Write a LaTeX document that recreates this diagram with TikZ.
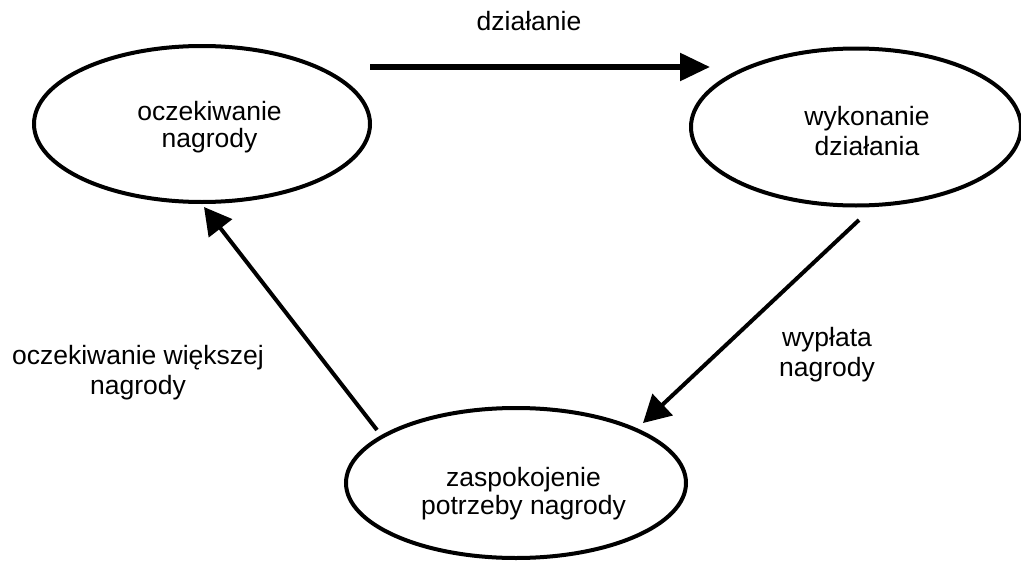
\documentclass[tikz,border=0pt]{standalone}
\usepackage{fontspec}
\setmainfont{Liberation Sans}
\usetikzlibrary{arrows.meta,calc,shapes.geometric}
\begin{document}
\begin{tikzpicture}[x=1pt,y=-1pt,
  state/.style={draw, ellipse, line width=4pt, inner sep=0pt},
  txt/.style={align=center, inner sep=0pt, font=\fontsize{26.5}{#1}\selectfont},
  txt/.default=30,
  conn/.style={line width=4pt, -{Triangle[length=27pt,width=29pt]}},
  thick conn/.style={line width=5.5pt, -{Triangle[length=30pt,width=27pt]}}]
\useasboundingbox (0,0) rectangle (1021,562);

% the three states of the cycle
\node[state, minimum width=336pt, minimum height=156pt] (e1) at (202,124) {};
\node[state, minimum width=330pt, minimum height=157pt] (e2) at (856,127) {};
\node[state, minimum width=340pt, minimum height=150pt] (e3) at (516,483) {};

\node[txt=27] (t1) at ($(e1.center)+(7.5,3)$) {oczekiwanie\\nagrody};
\node[txt=30] (t2) at ($(e2.center)+(11,4)$) {wykonanie\\działania};
\node[txt=28] (t3) at ($(e3.center)+(7.5,11)$) {zaspokojenie\\potrzeby nagrody};

% arrow end points just outside the ellipses
\coordinate (a1s) at ($(e1.center)+(168,-57)$);
\coordinate (a1e) at ($(e2.center)+(-146,-60)$);
\coordinate (a2s) at ($(e2.center)+(3,93)$);
\coordinate (a2e) at ($(e3.center)+(127,-60)$);
\coordinate (a3s) at ($(e3.center)+(-139,-53)$);
\coordinate (a3e) at ($(e1.center)+(2,83)$);

\draw[thick conn] (a1s) -- (a1e);
\draw[conn] (a2s) -- (a2e);
\draw[conn] (a3s) -- (a3e);

% connector labels
\node[txt] (l1) at (529,21) {działanie};
\node[txt] (l2) at (827,355) {wypłata\\nagrody};
\node[txt] (l3) at (138,373) {oczekiwanie większej\\nagrody};
\end{tikzpicture}
\end{document}
